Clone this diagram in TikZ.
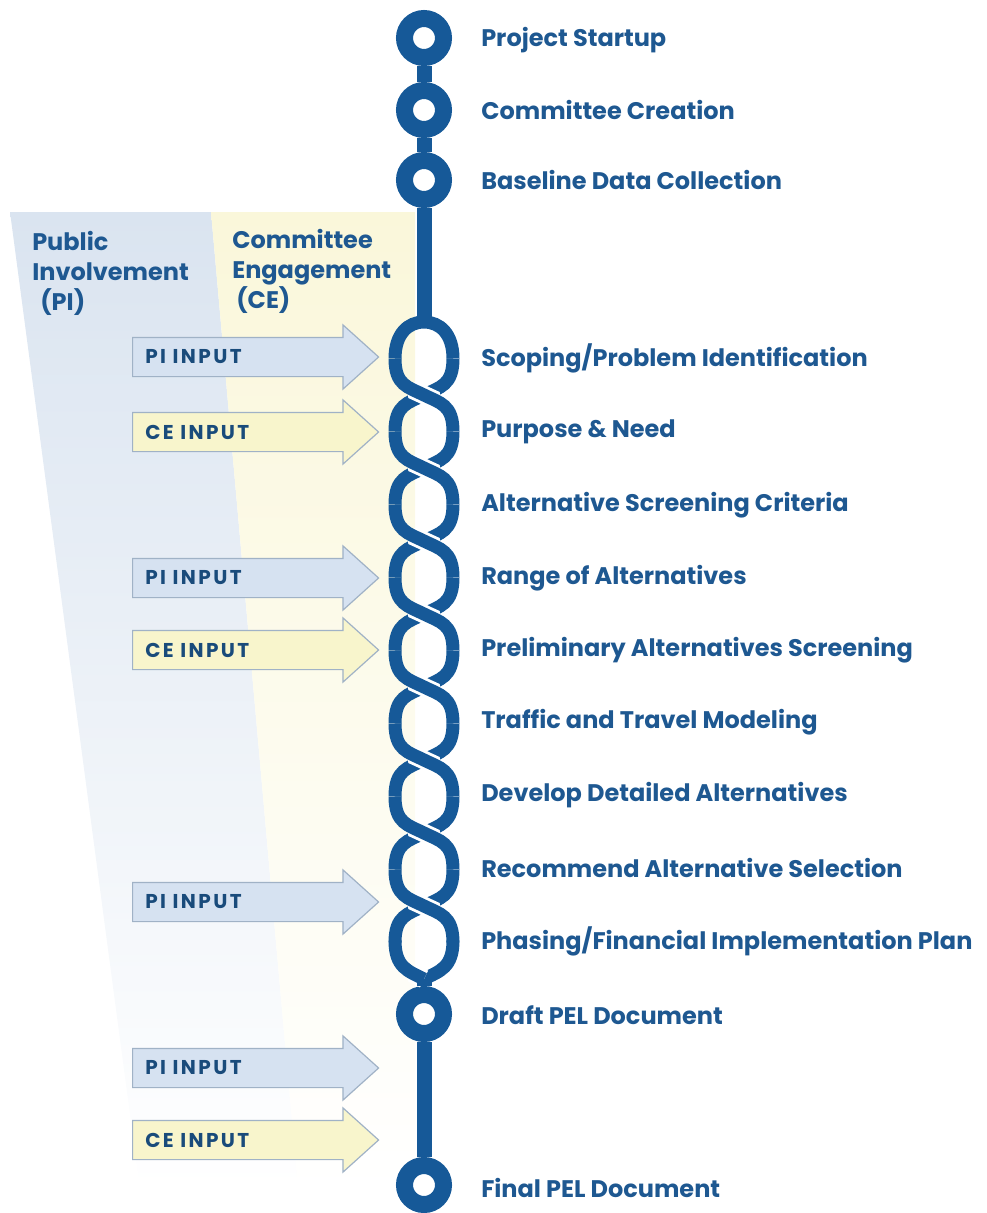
\documentclass[tikz,border=0pt]{standalone}
\usepackage{fontspec}
\setmainfont{Poppins}
\usetikzlibrary{shapes.arrows}
\definecolor{chainblue}{RGB}{22,89,152}
\definecolor{textblue}{RGB}{30,88,145}
\definecolor{pipanel}{RGB}{218,228,240}
\definecolor{cepanel}{RGB}{250,247,218}
\definecolor{pifill}{RGB}{214,226,241}
\definecolor{cefill}{RGB}{248,245,204}
\definecolor{arrowedge}{RGB}{160,178,198}

\begin{document}
\begin{tikzpicture}[x=0.75pt, y=-0.75pt]
	\tikzstyle{ring} = [circle, draw=chainblue, line width=12.75pt, minimum size=29.25pt, inner sep=0pt]
	\tikzstyle{spine} = [chainblue, line width=11.25pt]
	\tikzstyle{strand} = [chainblue, line width=9.75pt]
	\tikzstyle{gap} = [white, line width=14pt]
	\tikzstyle{lbl} = [anchor=west, inner sep=0pt, text=textblue, font=\fontsize{18}{20}\selectfont\bfseries]
	\tikzstyle{head} = [anchor=west, align=left, inner sep=0pt, text=textblue, font=\fontsize{18}{22.5}\selectfont\bfseries]
	\tikzstyle{inarrow} = [single arrow, draw=arrowedge, line width=0.9pt, inner xsep=0pt, inner ysep=14.25pt, anchor=tail,
		minimum height=184.5pt, minimum width=47.25pt, single arrow head extend=9.4pt, single arrow tip angle=84]
	\tikzstyle{pibox} = [inarrow, fill=pifill]
	\tikzstyle{cebox} = [inarrow, fill=cefill]
	\tikzstyle{intext} = [anchor=west, inner sep=0pt, text=textblue!85!black,
		font=\fontsize{15}{16}\selectfont\bfseries\addfontfeature{LetterSpace=12}]

	\useasboundingbox (0,0) rectangle (987,1213);

	% background panels
	\begin{scope}
		\clip (10,212) -- (211,212) -- (298,1190) -- (140,1190) -- cycle;
		\shade[top color=pipanel, bottom color=white] (0,212) rectangle (420,1190);
	\end{scope}
	\begin{scope}
		\clip (211,212) -- (415,212) -- (415,1190) -- (298,1190) -- cycle;
		\shade[top color=cepanel, bottom color=white] (0,212) rectangle (420,1190);
	\end{scope}

	\node[head] (pihead) at (32,273) {Public\\Involvement\\\hspace*{6pt}(PI)};
	\node[head] (cehead) at (232,271) {Committee\\Engagement\\\hspace*{3pt}(CE)};

	% input arrows
	\node[pibox] (pia1) at (132,357) {};
	\node[cebox] (cea1) at (132,432) {};
	\node[pibox] (pia2) at (132,578) {};
	\node[cebox] (cea2) at (132,650) {};
	\node[pibox] (pia3) at (132,902) {};
	\node[pibox] (pia4) at (132,1068) {};
	\node[cebox] (cea3) at (132,1140) {};
	\node[intext] (pit1) at (145,357) {PI INPUT};
	\node[intext] (cet1) at (145,432) {CE INPUT};
	\node[intext] (pit2) at (145,578) {PI INPUT};
	\node[intext] (cet2) at (145,650) {CE INPUT};
	\node[intext] (pit3) at (145,902) {PI INPUT};
	\node[intext] (pit4) at (145,1068) {PI INPUT};
	\node[intext] (cet3) at (145,1140) {CE INPUT};

	% spine with rings
	\coordinate (ctop) at (424,322);
	\coordinate (cbot) at (424,979);
	\node[ring] (r1) at (424,38) {};
	\node[ring] (r2) at (424,110) {};
	\node[ring] (r3) at (424,180) {};
	\node[ring] (r4) at (424,1014) {};
	\node[ring] (r5) at (424,1185) {};
	\draw[spine] (r1) -- (r2);
	\draw[spine] (r2) -- (r3);
	\draw[spine] (r3) -- (ctop);
	\draw[spine] (r4) -- (r5);

	% twisted chain
	\draw[strand] (395,358.5) .. controls (395,334) and (408,322) .. (ctop) .. controls (440,322) and (453,334) .. (453,358.5);
	\foreach \k [evaluate=\k as \jt using 322+73*\k, evaluate=\k as \ma using 322+73*\k-36.5, evaluate=\k as \mb using 322+73*\k+36.5] in {1,...,8} {
		\draw[strand] (453,\ma) .. controls (453,\ma+27) and (440,\jt-8) .. (424,\jt) .. controls (408,\jt+8) and (395,\mb-27) .. (395,\mb);
		\begin{scope}
			\clip (424,\jt) circle[radius=16];
			\draw[gap] (395,\ma) .. controls (395,\ma+27) and (408,\jt-8) .. (424,\jt) .. controls (440,\jt+8) and (453,\mb-27) .. (453,\mb);
		\end{scope}
		\draw[strand] (395,\ma) .. controls (395,\ma+27) and (408,\jt-8) .. (424,\jt) .. controls (440,\jt+8) and (453,\mb-27) .. (453,\mb);
	}
	\draw[strand] (453,940.5) .. controls (453,967.5) and (440,971) .. (cbot);
	\begin{scope}
		\clip (cbot) circle[radius=16];
		\draw[gap] (395,940.5) .. controls (395,967.5) and (408,971) .. (cbot);
	\end{scope}
	\draw[strand] (395,940.5) .. controls (395,967.5) and (408,971) .. (cbot);
	\draw[spine] (cbot) -- (r4);

	% step labels
	\node[lbl] (l1) at (481,40) {Project Startup};
	\node[lbl] (l2) at (481,110) {Committee Creation};
	\node[lbl] (l3) at (481,180) {Baseline Data Collection};
	\node[lbl] (l4) at (481,358) {Scoping/Problem Identification};
	\node[lbl] (l5) at (481,432) {Purpose \& Need};
	\node[lbl] (l6) at (481,505) {Alternative Screening Criteria};
	\node[lbl] (l7) at (481,578) {Range of Alternatives};
	\node[lbl] (l8) at (481,650) {Preliminary Alternatives Screening};
	\node[lbl] (l9) at (481,722) {Traffic and Travel Modeling};
	\node[lbl] (l10) at (481,795) {Develop Detailed Alternatives};
	\node[lbl] (l11) at (481,868) {Recommend Alternative Selection};
	\node[lbl] (l12) at (481,941) {Phasing/Financial Implementation Plan};
	\node[lbl] (l13) at (481,1015) {Draft PEL Document};
	\node[lbl] (l14) at (481,1188) {Final PEL Document};
\end{tikzpicture}
\end{document}
